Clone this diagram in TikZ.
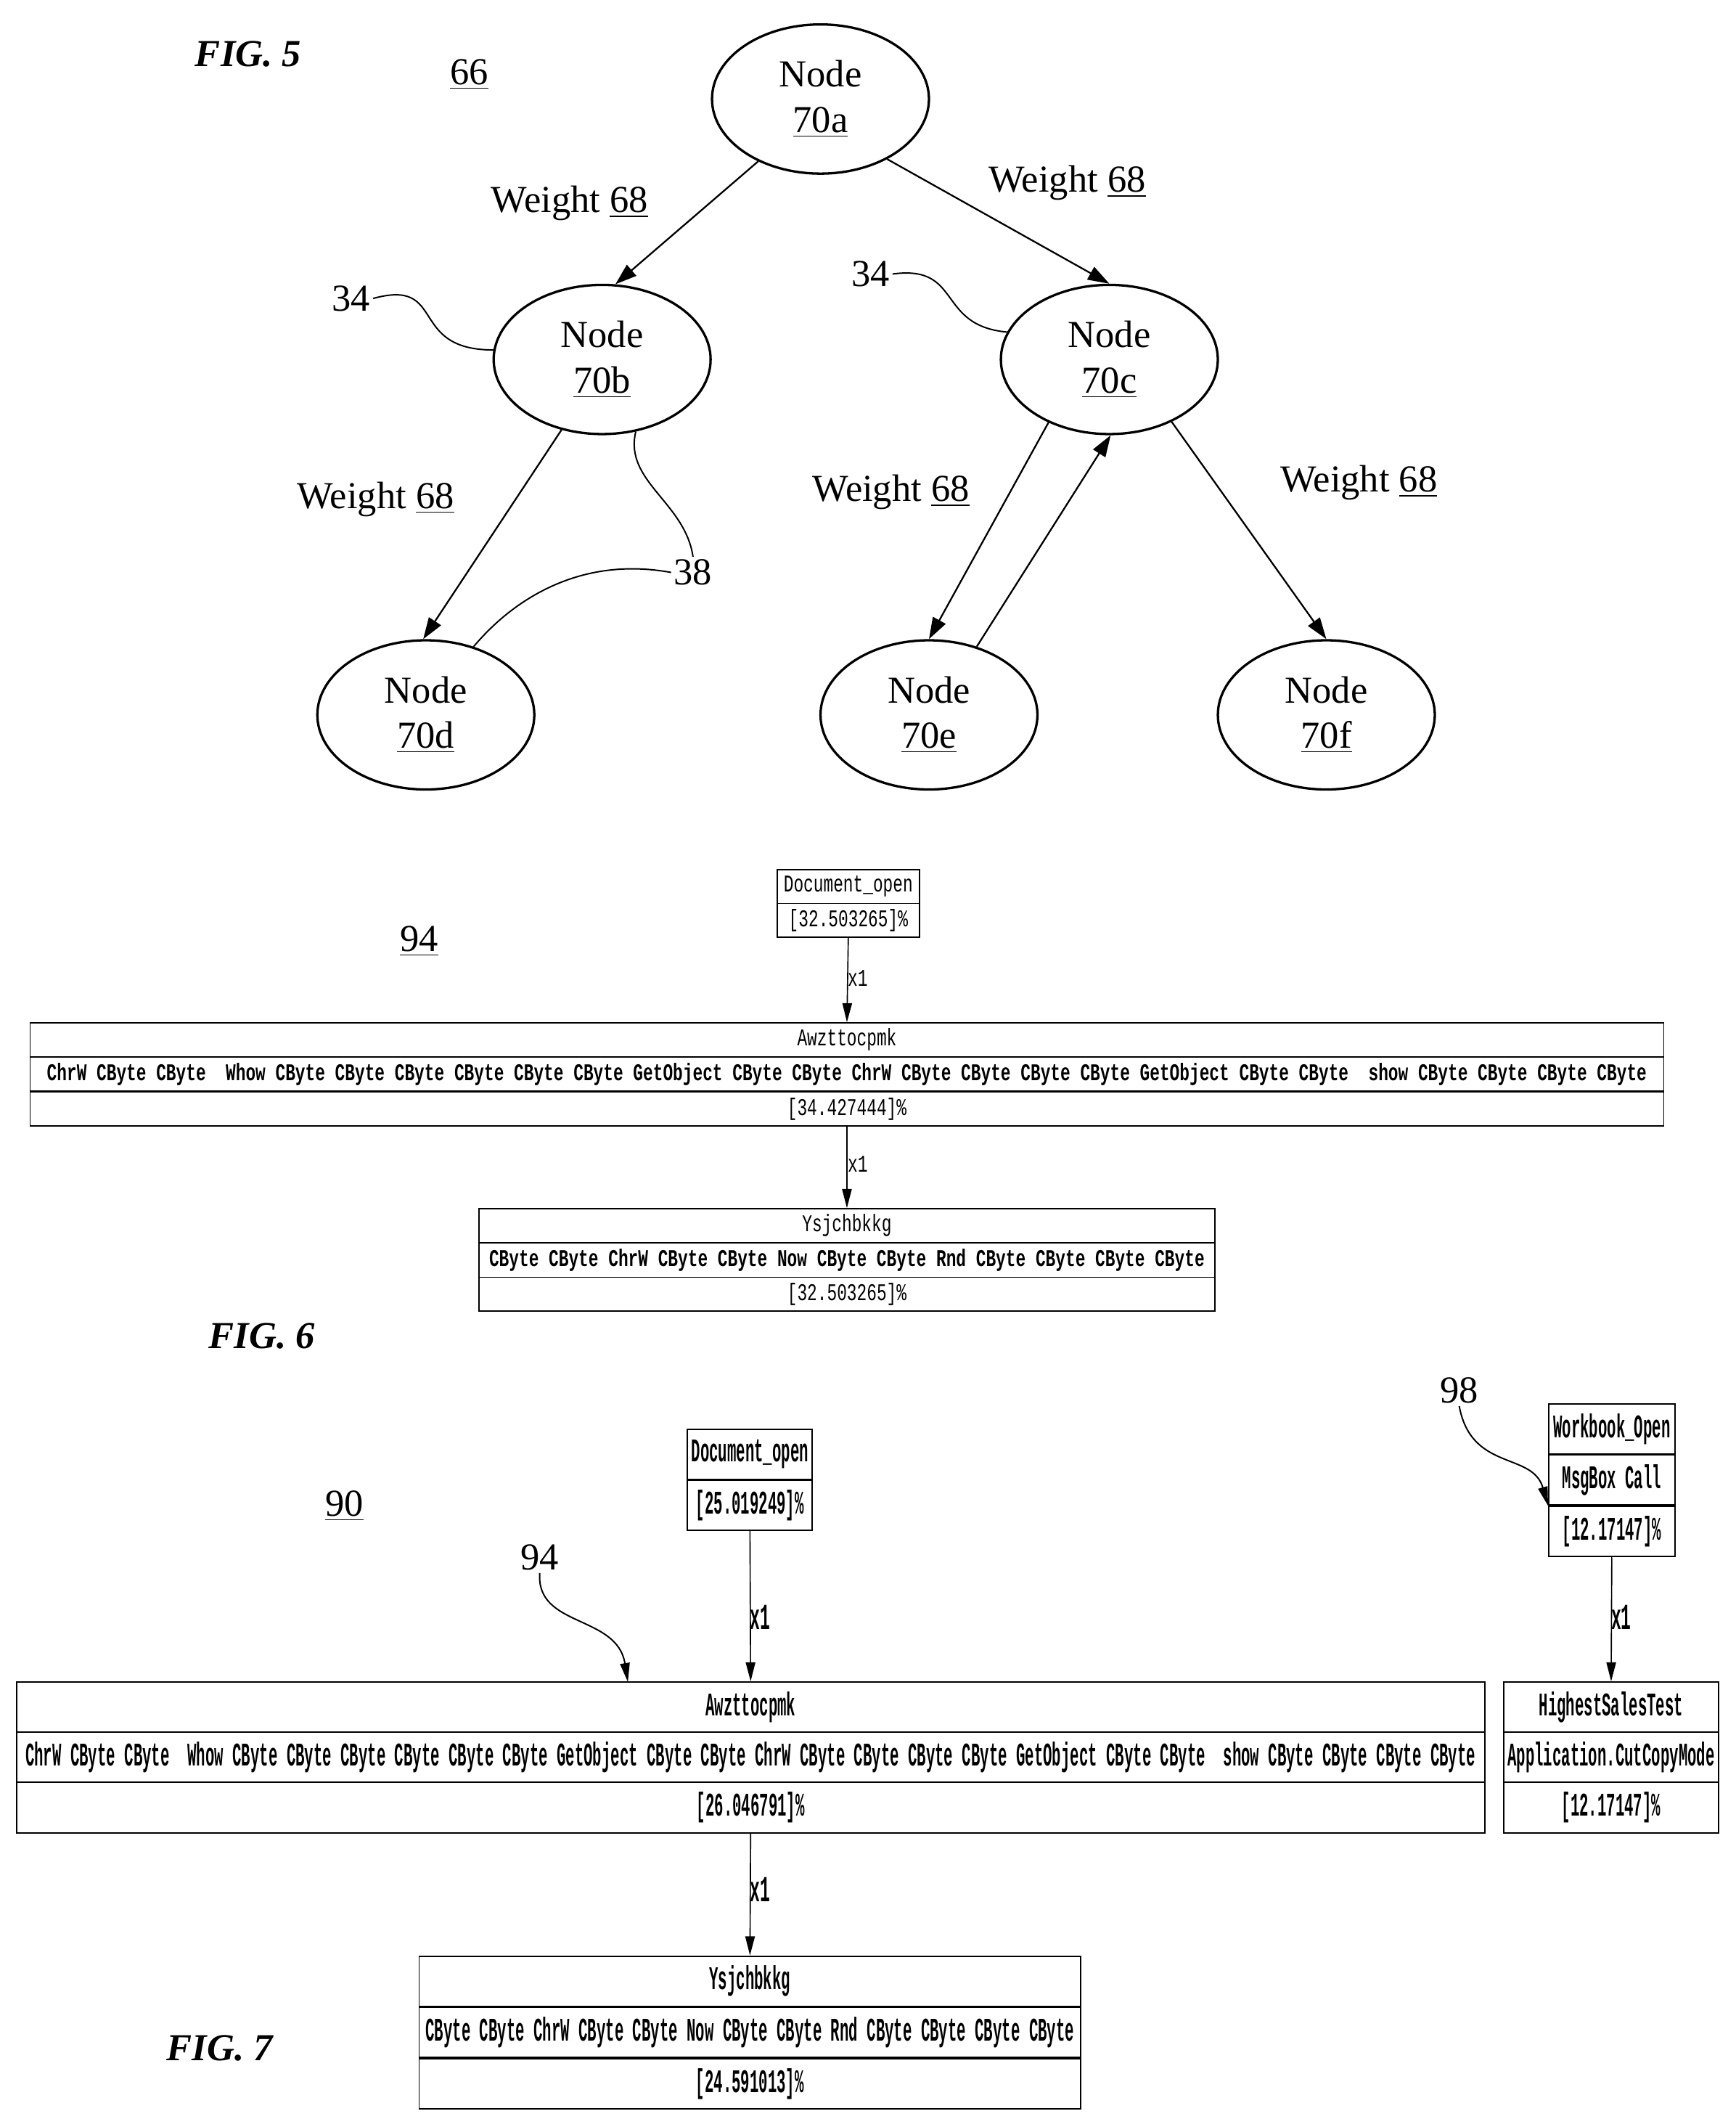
\documentclass[tikz,border=0pt]{standalone}
\usepackage{fontspec}
\setmainfont{Liberation Serif}
\setmonofont{Liberation Mono}
\usetikzlibrary{arrows.meta,shapes.geometric}
\newcommand{\tallsix}[1]{\scalebox{1}[1.45]{#1}}
\newcommand{\tallsev}[1]{\scalebox{1}[2.2]{\textbf{#1}}}
\tikzset{
  tree/.style={draw, line width=1pt, ellipse, minimum width=3.2cm, minimum height=2.2cm, align=center, font=\fontsize{16}{19}\selectfont},
  edge/.style={line width=.7pt, -{Triangle[length=9pt,width=6pt]}},
  lead/.style={line width=.6pt},
  lbl/.style={font=\fontsize{16}{19}\selectfont, inner sep=1pt},
  fig/.style={font=\fontsize{16}{19}\selectfont\bfseries\itshape},
  rowa/.style={draw, line width=.5pt, inner sep=0pt, minimum height=0.5cm, font=\fontsize{6.95}{8}\ttfamily},
  rowb/.style={draw, line width=.6pt, inner sep=0pt, minimum height=0.74cm, font=\fontsize{6.3}{7}\ttfamily},
  flow/.style={line width=.5pt, -{Triangle[length=8pt,width=4pt]}},
  xone/.style={font=\fontsize{7}{8}\ttfamily, anchor=west, inner sep=1pt},
}
\begin{document}
\begin{tikzpicture}[x=0.02cm, y=-0.02cm]
\useasboundingbox (0,0) rectangle (1280,1568);

% FIG. 5
\node[fig] (f5) at (183,40) {FIG. 5};
\node[lbl] (n66) at (346,55) {\underline{66}};
\node[tree] (a) at (605,73) {Node\\\underline{70a}};
\node[tree] (b) at (444,265) {Node\\\underline{70b}};
\node[tree] (c) at (818,265) {Node\\\underline{70c}};
\node[tree] (d) at (314,527) {Node\\\underline{70d}};
\node[tree] (e) at (685,527) {Node\\\underline{70e}};
\node[tree] (f) at (978,527) {Node\\\underline{70f}};
\draw[edge] (a.225) -- (b.80);
\draw[edge] (a.318) -- (c.90);
\draw[edge] (b.240) -- (d.92);
\draw[edge] (c.226) -- (e.90);
\draw[edge] (e.55) -- (c.271);
\draw[edge] (c.315) -- (f.90);
\node[lbl] (w1) at (420,150) {Weight \underline{68}};
\node[lbl] (w2) at (787,135) {Weight \underline{68}};
\node[lbl] (w3) at (277,368) {Weight \underline{68}};
\node[lbl] (w4) at (657,363) {Weight \underline{68}};
\node[lbl] (w5) at (1002,356) {Weight \underline{68}};
\node[lbl] (s1) at (259,220) {34};
\node[lbl] (s2) at (642,202) {34};
\node[lbl] (t1) at (511,422) {38};
\draw[lead] (s1.east) .. controls (330,205) and (300,258) .. (b.175);
\draw[lead] (s2.east) .. controls (710,195) and (690,240) .. (c.165);
\draw[lead] (t1.north) .. controls (505,370) and (460,355) .. (b.295);
\draw[lead] (t1.west) .. controls (430,410) and (380,440) .. (d.55);

% FIG. 6
\node[lbl] (n94) at (309,694) {\underline{94}};
\node[rowa, minimum width=2.1cm] (do1) at (625.5,653.5) {\tallsix{Document\_open}};
\node[rowa, minimum width=2.1cm] (do2) at (625.5,678.5) {\tallsix{[32.503265]\%}};
\node[rowa, minimum width=24.1cm] (aw1) at (624.5,766.5) {\tallsix{Awzttocpmk}};
\node[rowa, minimum width=24.1cm] (aw2) at (624.5,792) {\tallsix{\textbf{ChrW CByte CByte \ Whow CByte CByte CByte CByte CByte CByte GetObject CByte CByte ChrW CByte CByte CByte CByte GetObject CByte CByte \ show CByte CByte CByte CByte}}};
\node[rowa, minimum width=24.1cm] (aw3) at (624.5,817.5) {\tallsix{[34.427444]\%}};
\node[rowa, minimum width=10.86cm] (ys1) at (624.5,903.5) {\tallsix{Ysjchbkkg}};
\node[rowa, minimum width=10.86cm] (ys2) at (624.5,929) {\tallsix{\textbf{CByte CByte ChrW CByte CByte Now CByte CByte Rnd CByte CByte CByte CByte}}};
\node[rowa, minimum width=10.86cm] (ys3) at (624.5,954) {\tallsix{[32.503265]\%}};
\draw[flow] (do2.south) -- (aw1.north);
\draw[flow] (aw3.south) -- (ys1.north);
\node[xone] (x61) at (623,721) {\tallsix{x1}};
\node[xone] (x62) at (623,858) {\tallsix{x1}};
\node[fig] (f6) at (193,985) {FIG. 6};

% FIG. 7
\node[lbl] (n90) at (254,1110) {\underline{90}};
\node[rowb, minimum width=1.84cm] (dp1) at (553,1072) {\tallsev{Document\_open}};
\node[rowb, minimum width=1.84cm] (dp2) at (553,1109.5) {\tallsev{[25.019249]\%}};
\node[rowb, minimum width=21.66cm] (bw1) at (553.5,1258.5) {\tallsev{Awzttocpmk}};
\node[rowb, minimum width=21.66cm] (bw2) at (553.5,1295.5) {\tallsev{ChrW CByte CByte \ Whow CByte CByte CByte CByte CByte CByte GetObject CByte CByte ChrW CByte CByte CByte CByte GetObject CByte CByte \ show CByte CByte CByte CByte}};
\node[rowb, minimum width=21.66cm] (bw3) at (553.5,1332.5) {\tallsev{[26.046791]\%}};
\node[rowb, minimum width=9.76cm] (yb1) at (553,1460.5) {\tallsev{Ysjchbkkg}};
\node[rowb, minimum width=9.76cm] (yb2) at (553,1498) {\tallsev{CByte CByte ChrW CByte CByte Now CByte CByte Rnd CByte CByte CByte CByte}};
\node[rowb, minimum width=9.76cm] (yb3) at (553,1536) {\tallsev{[24.591013]\%}};
\node[rowb, minimum width=1.86cm] (wb1) at (1188.5,1053.5) {\tallsev{Workbook\_Open}};
\node[rowb, minimum width=1.86cm] (wb2) at (1188.5,1091) {\tallsev{MsgBox Call}};
\node[rowb, minimum width=1.86cm] (wb3) at (1188.5,1129) {\tallsev{[12.17147]\%}};
\node[rowb, minimum width=3.16cm] (hs1) at (1188,1258.5) {\tallsev{HighestSalesTest}};
\node[rowb, minimum width=3.16cm] (hs2) at (1188,1295.5) {\tallsev{Application.CutCopyMode}};
\node[rowb, minimum width=3.16cm] (hs3) at (1188,1332.5) {\tallsev{[12.17147]\%}};
\draw[flow] (dp2.south) -- (bw1.north);
\draw[flow] (bw3.south) -- (yb1.north);
\draw[flow] (wb3.south) -- (hs1.north);
\node[xone] (x71) at (551,1192) {\tallsev{x1}};
\node[xone] (x72) at (551,1393) {\tallsev{x1}};
\node[xone] (x73) at (1186,1192) {\tallsev{x1}};
\node[lbl] (m94) at (398,1148) {94};
\node[lbl] (m98) at (1076,1025) {98};
\draw[flow, line width=.6pt] (m94.south) .. controls (395,1200) and (455,1190) .. (463,1240);
\draw[flow, line width=.6pt] (m98.south) .. controls (1085,1085) and (1130,1070) .. (wb2.south west);
\node[fig] (f7) at (162,1510) {FIG. 7};
\end{tikzpicture}
\end{document}
